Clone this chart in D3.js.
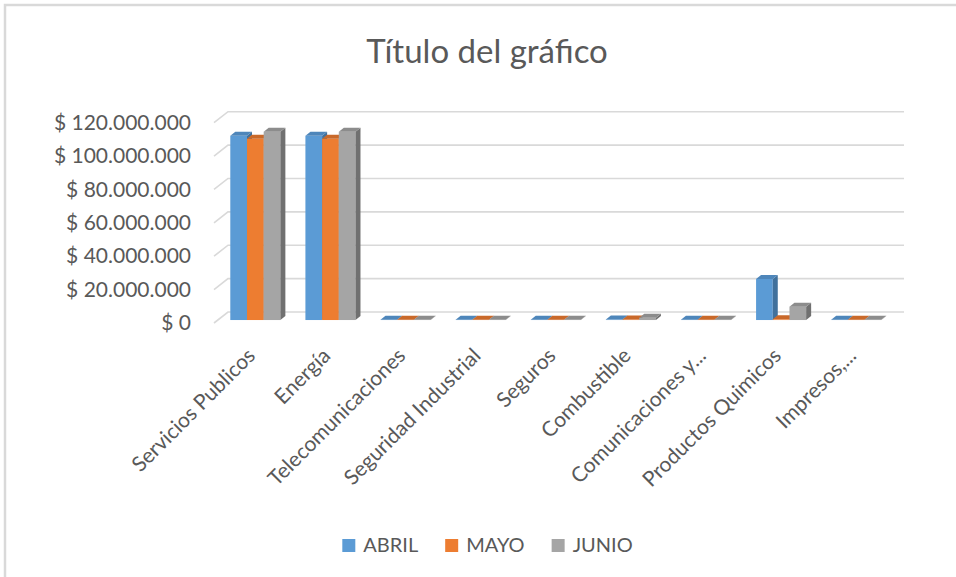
<!DOCTYPE html>
<html>
<head>
<meta charset="utf-8">
<script src="https://cdn.jsdelivr.net/npm/d3@7"></script>
<style>
    body { margin: 0; background: #fff; }
    text { font-family: Lato, "Noto Sans", sans-serif; fill: #595959; }
</style>
</head>
<body>
<div id="chart"></div>
<script>
// chart values
const categories = ["Servicios Publicos", "Energía", "Telecomunicaciones", "Seguridad Industrial",
    "Seguros", "Combustible", "Comunicaciones y...", "Productos Quimicos", "Impresos,..."];
const seriesNames = ["ABRIL", "MAYO", "JUNIO"];
const abril = [110400000, 110400000, 150000, 150000, 150000, 300000, 150000, 24600000, 150000];
const mayo  = [108600000, 108600000, 150000, 150000, 150000, 300000, 150000, 400000, 150000];
const junio = [112800000, 112800000, 150000, 150000, 150000, 1400000, 150000, 8000000, 150000];
const yTicks = [0, 20000000, 40000000, 60000000, 80000000, 100000000, 120000000];

const colors = {
    ABRIL: { front: "#5B9BD5", top: "#4E86BA", side: "#41719C" },
    MAYO:  { front: "#ED7D31", top: "#C9692A", side: "#AE5A21" },
    JUNIO: { front: "#A5A5A5", top: "#8C8C8C", side: "#707070" }
};

const width = 956, height = 577;

const svg = d3.select("#chart").append("svg")
    .attr("width", width)
    .attr("height", height);

// chart border
svg.append("path")
    .attr("d", "M5,577 L5,5 L956,5")
    .attr("fill", "none")
    .attr("stroke", "#d9d9d9")
    .attr("stroke-width", 2.5);

// title
svg.append("text")
    .attr("x", 487)
    .attr("y", 63)
    .attr("text-anchor", "middle")
    .style("font-size", "33px")
    .text("Título del gráfico");

// 3d depth of the floor (back wall -> front edge)
const depthX = 14, depthY = 11;

// scales on the back wall
let x = d3.scaleBand()
    .domain(categories)
    .range([228, 904]);

let xSeries = d3.scaleBand()
    .domain(seriesNames)
    .range([x.bandwidth() / 6, x.bandwidth() * 5 / 6]);

let y = d3.scaleLinear()
    .domain([0, 120000000])
    .range([312, 111.7]);

// same scale at the front edge of the floor
let yFront = y.copy().range([312 + depthY, 111.7 + depthY]);

// gridlines
svg.append("g")
    .selectAll("path")
    .data(yTicks)
    .enter()
    .append("path")
    .attr("d", d => "M" + (x.range()[0] - depthX) + "," + yFront(d) +
        " L" + x.range()[0] + "," + y(d) + " L" + x.range()[1] + "," + y(d))
    .attr("fill", "none")
    .attr("stroke", "#d9d9d9")
    .attr("stroke-width", 1.6);

// y axis labels
let fmt = d => "$ " + d3.format(",")(d).replace(/,/g, ".");
let yAxis = d3.axisLeft(yFront)
    .tickValues(yTicks)
    .tickFormat(fmt)
    .tickSize(0)
    .tickPadding(0);

svg.append("g")
    .attr("class", "y-axis")
    .attr("transform", "translate(191,0)")
    .call(yAxis)
    .call(g => g.select(".domain").remove())
    .selectAll("text")
    .style("font-size", "21px")
    .style("font-family", "Lato, 'Noto Sans', sans-serif")
    .attr("fill", "#595959");

// bars: front face placed a bit in front of the middle of the floor
const faceT = 0.73;
const offX = -faceT * depthX, offY = faceT * depthY;
const barDX = 5, barDY = 4;

let rows = [];
categories.forEach(function (c, i) {
    rows.push({ cat: c, series: "ABRIL", value: abril[i] });
    rows.push({ cat: c, series: "MAYO", value: mayo[i] });
    rows.push({ cat: c, series: "JUNIO", value: junio[i] });
});

let bars = svg.append("g")
    .selectAll("g")
    .data(rows)
    .enter()
    .append("g");

bars.each(function (d) {
    let g = d3.select(this);
    let x0 = x(d.cat) + xSeries(d.series) + offX;
    let w = xSeries.bandwidth();
    let yTop = y(d.value) + offY;
    let yBase = y(0) + offY;
    let col = colors[d.series];

    g.append("rect")
        .attr("x", x0)
        .attr("y", yTop)
        .attr("width", w)
        .attr("height", Math.max(0, yBase - yTop))
        .attr("fill", col.front);

    g.append("path")
        .attr("d", "M" + (x0 + w) + "," + yTop + " L" + (x0 + w + barDX) + "," + (yTop - barDY) +
            " L" + (x0 + w + barDX) + "," + (yBase - barDY) + " L" + (x0 + w) + "," + yBase + "Z")
        .attr("fill", col.side);

    g.append("path")
        .attr("d", "M" + x0 + "," + yTop + " L" + (x0 + barDX) + "," + (yTop - barDY) +
            " L" + (x0 + w + barDX) + "," + (yTop - barDY) + " L" + (x0 + w) + "," + yTop + "Z")
        .attr("fill", col.top);
});

// category labels
svg.append("g")
    .selectAll("text")
    .data(categories)
    .enter()
    .append("text")
    .attr("transform", d => "translate(" + (x(d) + x.bandwidth() / 2 - 9) + ",357) rotate(-45)")
    .attr("text-anchor", "end")
    .style("font-size", "21px")
    .text(d => d);

// legend
let legend = svg.append("g");
let cursor = 0;
seriesNames.forEach(function (s) {
    let item = legend.append("g").attr("transform", "translate(" + cursor + ",0)");
    item.append("rect")
        .attr("x", 0)
        .attr("y", -13)
        .attr("width", 13)
        .attr("height", 13)
        .attr("fill", colors[s].front);
    let t = item.append("text")
        .attr("x", 21)
        .attr("y", 0)
        .style("font-size", "20px")
        .text(s);
    cursor += 21 + t.node().getComputedTextLength() + 27;
});
let legendW = cursor - 27;
legend.attr("transform", "translate(" + (487.5 - legendW / 2) + ",552)");
</script>
</body>
</html>
